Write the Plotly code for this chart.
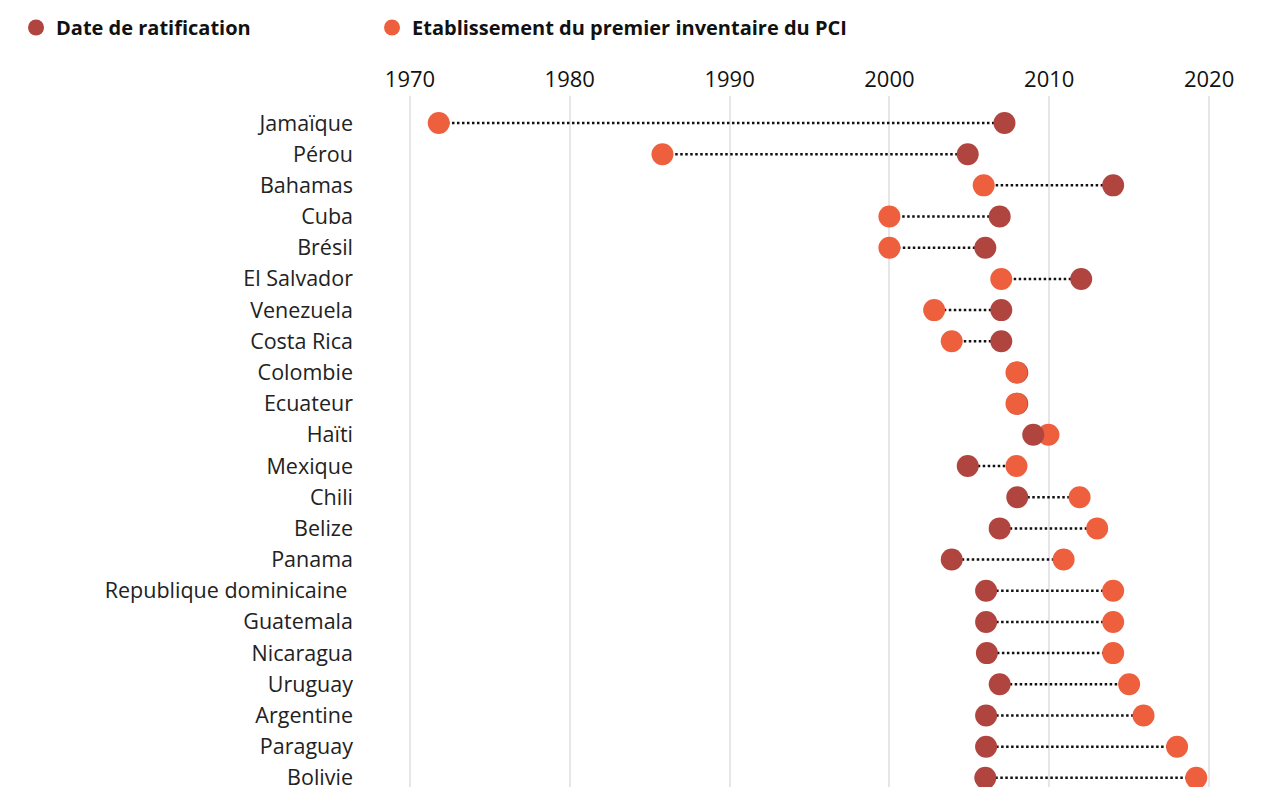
import plotly.graph_objects as go

countries = ["Jamaïque", "Pérou", "Bahamas", "Cuba", "Brésil", "El Salvador", "Venezuela",
             "Costa Rica", "Colombie", "Ecuateur", "Haïti", "Mexique", "Chili", "Belize",
             "Panama", "Republique dominicaine ", "Guatemala", "Nicaragua", "Uruguay",
             "Argentine", "Paraguay", "Bolivie"]
ratification = [2007.2, 2004.9, 2014.0, 2006.9, 2006.0, 2012.0, 2007.0, 2007.0, 2008.0, 2008.0,
                2009.0, 2004.9, 2008.0, 2006.9, 2003.9, 2006.05, 2006.05, 2006.1, 2006.9,
                2006.05, 2006.05, 2006.0]
inventaire = [1971.8, 1985.8, 2005.9, 2000.0, 2000.0, 2007.0, 2002.8, 2003.9, 2007.95, 2007.95,
              2009.95, 2007.95, 2011.9, 2013.0, 2010.9, 2014.0, 2014.0, 2014.0, 2015.0,
              2015.9, 2018.0, 2019.2]
xticks = [1970, 1980, 1990, 2000, 2010, 2020]

DARK = "#B0453F"
ORANGE = "#EE603D"
NAME_RAT = "Date de ratification"
NAME_INV = "Etablissement du premier inventaire du PCI"
rows = list(range(len(countries)))

# connector lines
lx, ly = [], []
for i in rows:
    lx += [ratification[i], inventaire[i], None]
    ly += [i, i, None]

# markers, drawn row by row so the later date sits underneath
mx, my, mc, mt = [], [], [], []
for i in rows:
    pts = [(ratification[i], DARK, NAME_RAT), (inventaire[i], ORANGE, NAME_INV)]
    if inventaire[i] > ratification[i]:
        pts = pts[::-1]
    for x, c, n in pts:
        mx.append(x); my.append(i); mc.append(c); mt.append(n)

fig = go.Figure()
fig.add_trace(go.Scatter(x=lx, y=ly, mode="lines", showlegend=False, hoverinfo="skip",
                         line=dict(color="#111111", width=2.5, dash="2.5px,2.5px")))
fig.add_trace(go.Scatter(x=mx, y=my, mode="markers", showlegend=False, text=mt,
                         hovertemplate="%{text}: %{x}<extra></extra>",
                         marker=dict(color=mc, size=22, line=dict(width=0)),
                         cliponaxis=False))
# legend entries
fig.add_trace(go.Scatter(x=[None], y=[None], mode="markers", name=NAME_RAT, legend="legend",
                         marker=dict(color=DARK, size=22)))
fig.add_trace(go.Scatter(x=[None], y=[None], mode="markers", name=NAME_INV, legend="legend2",
                         marker=dict(color=ORANGE, size=22)))

legfont = dict(family="Open Sans, sans-serif", size=20, color="#111111", weight="bold")
fig.update_layout(
    width=1275, height=787,
    margin=dict(l=370, r=34, t=88, b=0, autoexpand=False),
    plot_bgcolor="white", paper_bgcolor="white",
    font=dict(family="Open Sans, sans-serif", size=18, color="#222222"),
    showlegend=True,
    legend=dict(orientation="h", xref="container", yref="container", x=0.0063, y=1.0,
                xanchor="left", yanchor="top", font=legfont, itemsizing="trace"),
    legend2=dict(orientation="h", xref="container", yref="container", x=0.2855, y=1.0,
                 xanchor="left", yanchor="top", font=legfont, itemsizing="trace"),
    xaxis=dict(side="top", range=[1968.0, 2022.5], tickvals=xticks,
               ticktext=[str(t) for t in xticks],
               showgrid=True, gridcolor="#E6E6E6", gridwidth=1.5, zeroline=False,
               showline=False, ticks="", ticklabelstandoff=4,
               tickfont=dict(family="Open Sans, sans-serif", size=22, color="#111111")),
    yaxis=dict(range=[21.55, -0.866], tickvals=rows, ticktext=countries, showgrid=False,
               zeroline=False, showline=False, ticks="", ticklabelstandoff=24,
               tickfont=dict(family="Open Sans, sans-serif", size=21.5, color="#222222")),
)

fig.write_html("out.html")
